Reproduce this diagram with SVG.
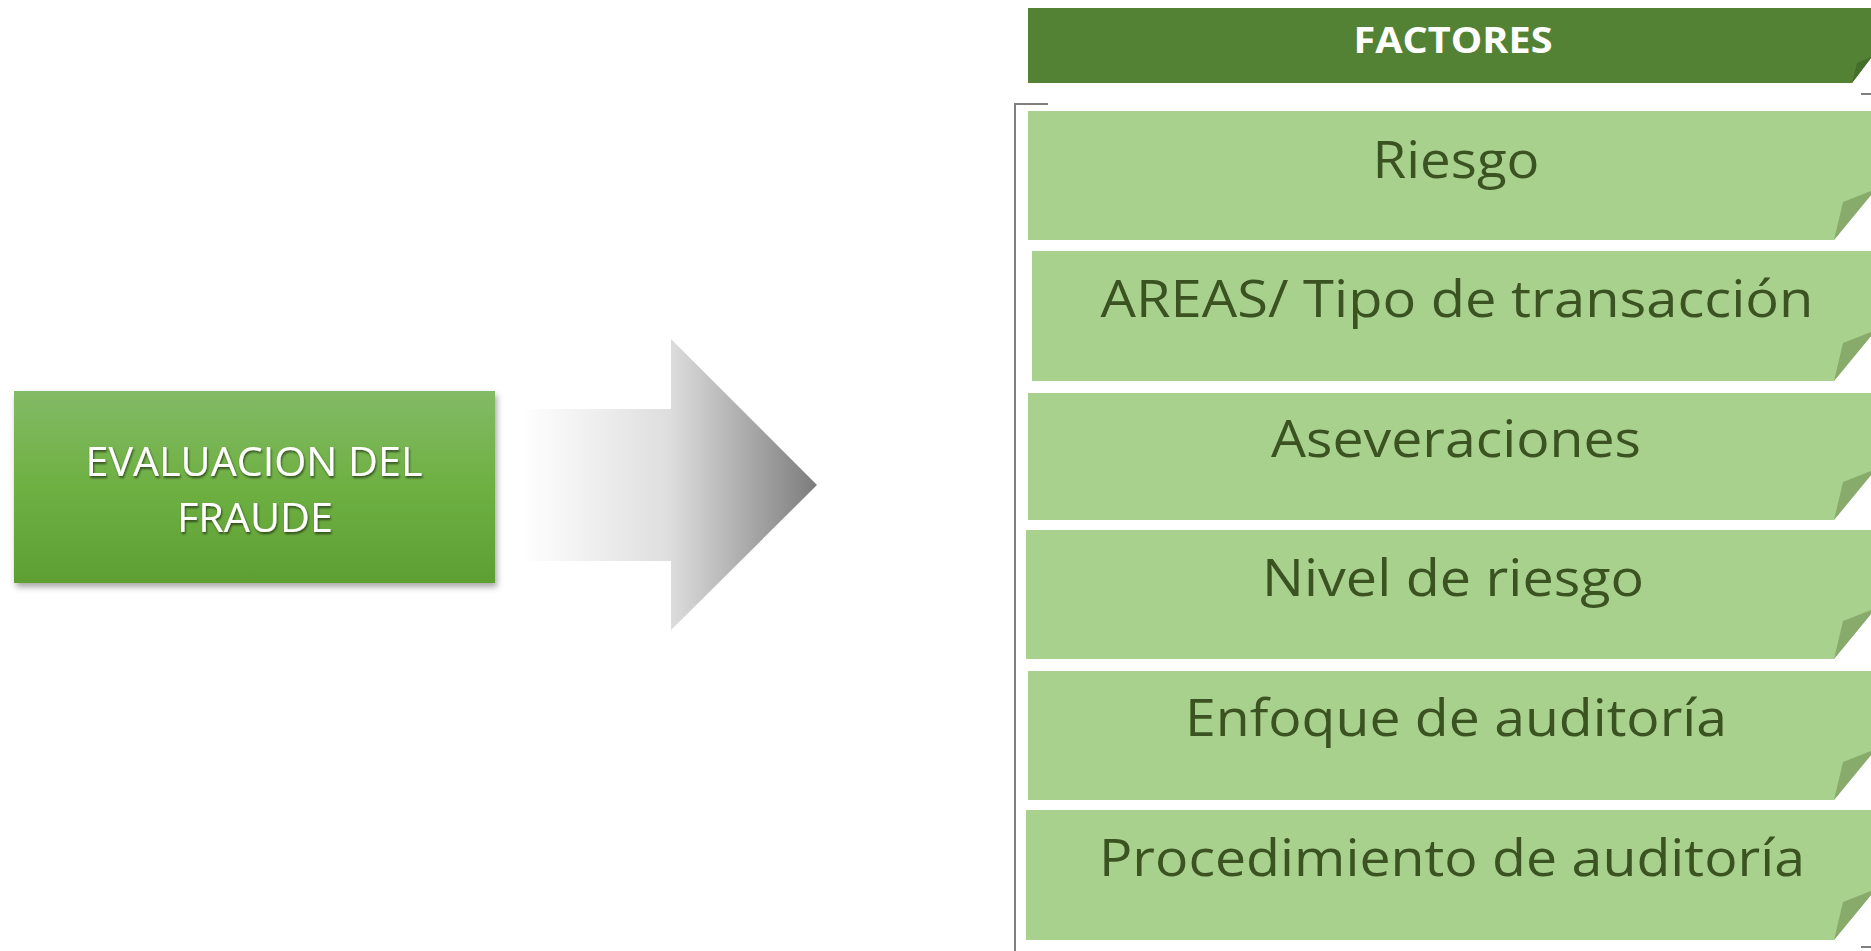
<svg xmlns="http://www.w3.org/2000/svg" width="1871" height="951" viewBox="0 0 1871 951">
<defs>
<linearGradient id="gBox" x1="0" y1="0" x2="0" y2="1">
<stop offset="0" stop-color="#83ba66"/>
<stop offset="0.5" stop-color="#6eb042"/>
<stop offset="1" stop-color="#5e9f33"/>
</linearGradient>
<linearGradient id="gArrow" gradientUnits="userSpaceOnUse" x1="521" y1="0" x2="817" y2="0">
<stop offset="0" stop-color="#ffffff"/>
<stop offset="0.5" stop-color="#dedede"/>
<stop offset="1" stop-color="#7c7c7c"/>
</linearGradient>
<filter id="shadow" x="-5%" y="-5%" width="115%" height="125%">
<feDropShadow dx="2" dy="4" stdDeviation="3" flood-color="#000" flood-opacity="0.35"/>
</filter>
<filter id="tshadow" x="-5%" y="-20%" width="110%" height="150%">
<feDropShadow dx="1" dy="2" stdDeviation="1.2" flood-color="#000" flood-opacity="0.55"/>
</filter>
</defs>
<style>
.item{fill:#a9d18e;}
.fold{fill:#88ab6c;}
.itxt{font-family:"Open Sans","Liberation Sans",sans-serif;font-size:52px;fill:#3a5321;text-anchor:middle;}
.wtxt{font-family:"Open Sans","Liberation Sans",sans-serif;font-size:41px;fill:#ffffff;text-anchor:middle;}
.htxt{font-family:"Open Sans","Liberation Sans",sans-serif;font-size:36px;font-weight:bold;fill:#ffffff;text-anchor:middle;}
.brk{fill:none;stroke:#7f7f7f;stroke-width:2;}
</style>
<rect width="1871" height="951" fill="#ffffff"/>

<g id="evaluacion">
<rect x="14" y="391" width="481" height="192" fill="url(#gBox)" filter="url(#shadow)"/>
<g filter="url(#tshadow)">
<text class="wtxt" x="254" y="476" textLength="337" lengthAdjust="spacingAndGlyphs">EVALUACION DEL</text>
<text class="wtxt" x="255" y="532" textLength="156" lengthAdjust="spacingAndGlyphs">FRAUDE</text>
</g>
</g>

<g id="connectors">
<polygon points="521,409 671,409 671,339 817,485 671,630 671,561 521,561" fill="url(#gArrow)"/>
</g>

<g id="bracket">
<polyline class="brk" points="1048,104 1015,104 1015,951"/>
<line class="brk" x1="1861" y1="94" x2="1871" y2="94"/>
<line class="brk" x1="1861" y1="947" x2="1871" y2="947"/>
</g>

<g id="factores">
<polygon points="1028,8 1871,8 1871,58 1852,83 1028,83" fill="#548235"/>
<polygon points="1852,83 1857,63 1871,57 1871,58" fill="#466e2b"/>
<text class="htxt" x="1453" y="53" textLength="199" lengthAdjust="spacingAndGlyphs">FACTORES</text>
</g>

<g id="riesgo">
<polygon class="item" points="1028,111 1871,111 1871,195 1834,240 1028,240"/>
<polygon class="fold" points="1834,240 1843,202 1871,191 1871,195"/>
<text class="itxt" x="1456" y="178" textLength="167" lengthAdjust="spacingAndGlyphs">Riesgo</text>
</g>

<g id="areas">
<polygon class="item" points="1032,251 1871,251 1871,336 1834,381 1032,381"/>
<polygon class="fold" points="1834,381 1843,343 1871,332 1871,336"/>
<text class="itxt" x="1457" y="317" textLength="713" lengthAdjust="spacingAndGlyphs">AREAS/ Tipo de transacción</text>
</g>

<g id="aseveraciones">
<polygon class="item" points="1028,393 1871,393 1871,475 1834,520 1028,520"/>
<polygon class="fold" points="1834,520 1843,482 1871,471 1871,475"/>
<text class="itxt" x="1456" y="457" textLength="370" lengthAdjust="spacingAndGlyphs">Aseveraciones</text>
</g>

<g id="nivel">
<polygon class="item" points="1026,530 1871,530 1871,614 1834,659 1026,659"/>
<polygon class="fold" points="1834,659 1843,621 1871,610 1871,614"/>
<text class="itxt" x="1453" y="596" textLength="382" lengthAdjust="spacingAndGlyphs">Nivel de riesgo</text>
</g>

<g id="enfoque">
<polygon class="item" points="1028,671 1871,671 1871,755 1834,800 1028,800"/>
<polygon class="fold" points="1834,800 1843,762 1871,751 1871,755"/>
<text class="itxt" x="1456" y="736" textLength="542" lengthAdjust="spacingAndGlyphs">Enfoque de auditoría</text>
</g>

<g id="procedimiento">
<polygon class="item" points="1026,810 1871,810 1871,895 1834,940 1026,940"/>
<polygon class="fold" points="1834,940 1843,902 1871,891 1871,895"/>
<text class="itxt" x="1452" y="876" textLength="706" lengthAdjust="spacingAndGlyphs">Procedimiento de auditoría</text>
</g>
</svg>
